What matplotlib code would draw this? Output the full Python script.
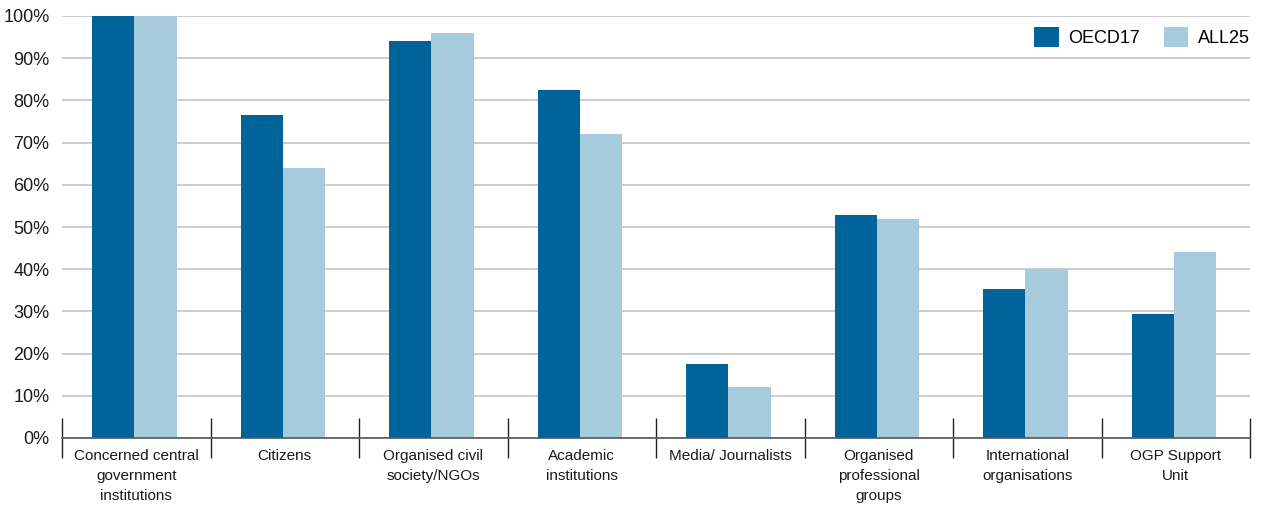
import matplotlib.pyplot as plt
import numpy as np

# Data (share of respondents, %)
categories = ['Concerned central\ngovernment\ninstitutions', 'Citizens',
              'Organised civil\nsociety/NGOs', 'Academic\ninstitutions',
              'Media/ Journalists', 'Organised\nprofessional\ngroups',
              'International\norganisations', 'OGP Support\nUnit']
oecd17 = [100, 76.5, 94.1, 82.4, 17.6, 52.9, 35.3, 29.4]
all25 = [100, 64, 96, 72, 12, 52, 40, 44]
yticks = list(range(0, 101, 10))
ytick_labels = [f'{v}%' for v in yticks]

dark = '#00649A'
light = '#A6CBDD'

fig = plt.figure(figsize=(12.63, 5.12), dpi=100)
ax = fig.add_axes([62/1263, 74/512, (1250-62)/1263, (438-16)/512])

x = np.arange(len(categories))
w = 0.285
ax.bar(x - w/2 - 0.012, oecd17, w, color=dark, label='OECD17', zorder=3)
ax.bar(x + w/2 - 0.012, all25, w, color=light, label='ALL25', zorder=3)

ax.set_xlim(-0.5, len(categories) - 0.5)
ax.set_ylim(0, 100)
ax.set_yticks(yticks)
ax.set_yticklabels(ytick_labels, fontsize=13, fontfamily='Liberation Sans')
ax.tick_params(axis='y', length=0, pad=9, colors='#1a1a1a')
ax.yaxis.grid(True, color='#cccccc', linewidth=1.4, zorder=0)

# category labels centred, separators as minor ticks
ax.set_xticks(x)
ax.set_xticklabels(categories, fontsize=11, fontfamily='Liberation Sans',
                   linespacing=1.55)
ax.tick_params(axis='x', which='major', length=0, pad=8, colors='#1a1a1a')
ax.set_xticks(np.arange(-0.5, len(categories)), minor=True)
ax.tick_params(axis='x', which='minor', direction='inout', length=29, width=1, color='#222222')

for s in ['top', 'right', 'left']:
    ax.spines[s].set_visible(False)
ax.spines['bottom'].set_color('#555555')
ax.spines['bottom'].set_linewidth(1.2)
ax.spines['bottom'].set_zorder(4)

ax.legend(loc='upper right', bbox_to_anchor=(1.0, 0.975), ncol=2, frameon=False,
          handlelength=1.35, handleheight=1.35, handletextpad=0.55, columnspacing=1.3,
          borderaxespad=0, borderpad=0, prop={'family': 'Liberation Sans', 'size': 13})

fig.savefig('out.png', dpi=100)
